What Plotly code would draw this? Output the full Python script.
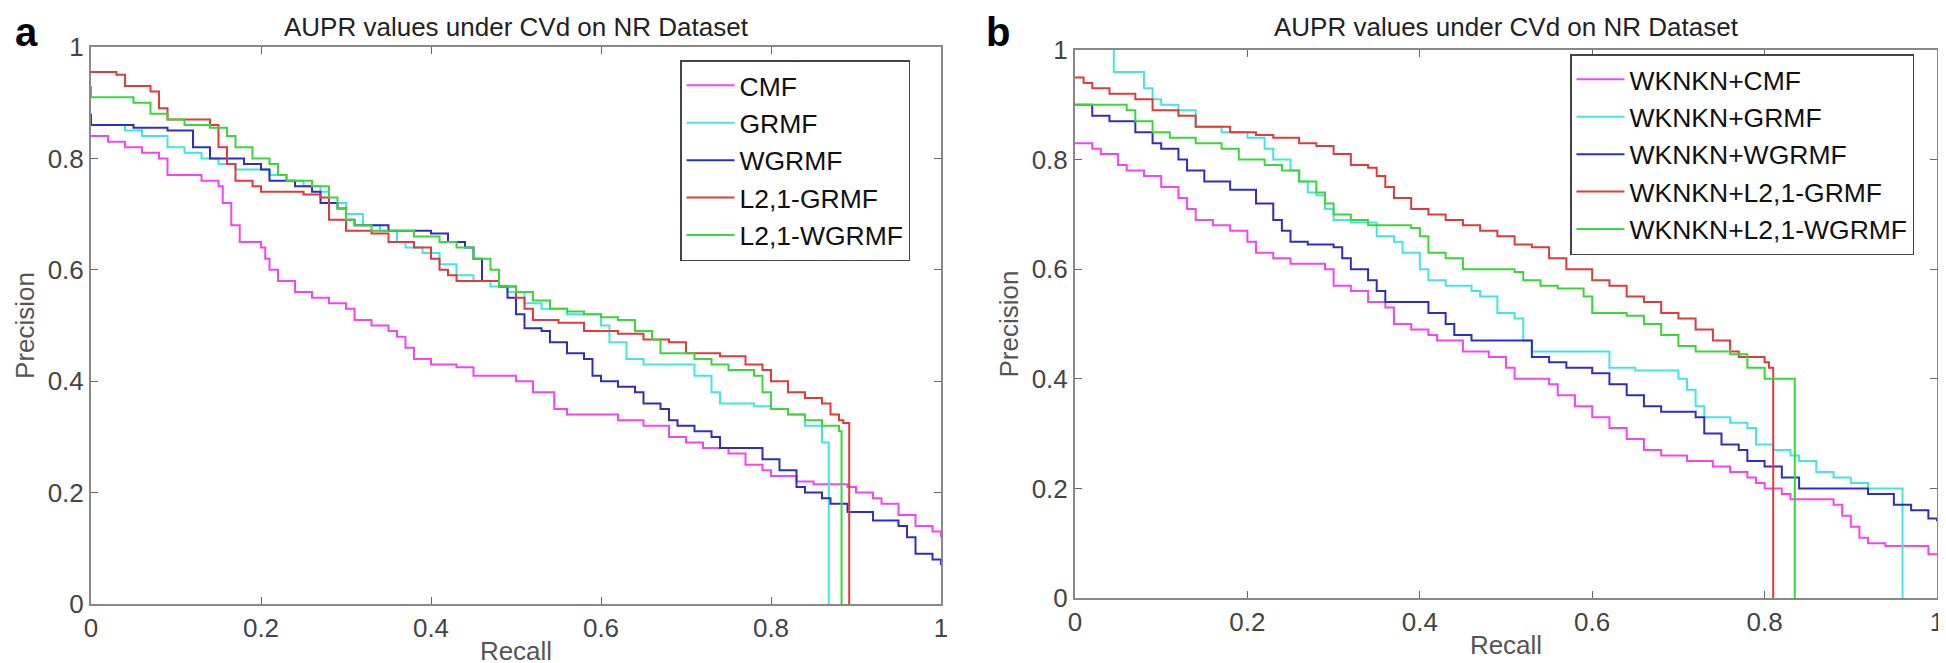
import plotly.graph_objects as go

W, H = 1946, 663

# ---- panel a : (recall, precision) step points ----
CMF = [(0, 0.84), (0.02, 0.83), (0.04, 0.82), (0.06, 0.81), (0.08, 0.80), (0.09, 0.77),
       (0.13, 0.76), (0.15, 0.75), (0.155, 0.72), (0.165, 0.68), (0.175, 0.65), (0.2, 0.64),
       (0.205, 0.62), (0.21, 0.60), (0.22, 0.58), (0.24, 0.56), (0.26, 0.55), (0.28, 0.54),
       (0.3, 0.53), (0.31, 0.51), (0.33, 0.50), (0.35, 0.49), (0.36, 0.48), (0.37, 0.46),
       (0.38, 0.44), (0.4, 0.43), (0.43, 0.425), (0.45, 0.41), (0.5, 0.40), (0.52, 0.38),
       (0.545, 0.35), (0.56, 0.34), (0.62, 0.33), (0.65, 0.32), (0.68, 0.30), (0.7, 0.29),
       (0.72, 0.28), (0.75, 0.27), (0.77, 0.25), (0.79, 0.24), (0.8, 0.23), (0.83, 0.22),
       (0.85, 0.215), (0.89, 0.21), (0.9, 0.20), (0.92, 0.19), (0.93, 0.18), (0.95, 0.16),
       (0.97, 0.14), (0.99, 0.13), (1.0, 0.12)]
GRMF = [(0, 0.86), (0.04, 0.85), (0.06, 0.84), (0.09, 0.82), (0.11, 0.81), (0.13, 0.80),
        (0.15, 0.79), (0.17, 0.78), (0.21, 0.77), (0.23, 0.76), (0.25, 0.75), (0.27, 0.74),
        (0.28, 0.72), (0.3, 0.70), (0.32, 0.68), (0.34, 0.67), (0.36, 0.65), (0.37, 0.64),
        (0.39, 0.63), (0.41, 0.61), (0.43, 0.59), (0.45, 0.58), (0.47, 0.57), (0.49, 0.56),
        (0.51, 0.54), (0.53, 0.53), (0.56, 0.52), (0.6, 0.50), (0.61, 0.47), (0.63, 0.44),
        (0.65, 0.43), (0.69, 0.43), (0.71, 0.41), (0.73, 0.38), (0.74, 0.36), (0.78, 0.355),
        (0.8, 0.35), (0.82, 0.34), (0.84, 0.32), (0.86, 0.29), (0.868, 0.0)]
WGRMF = [(0, 0.88), (0, 0.86), (0.05, 0.855), (0.09, 0.85), (0.12, 0.82), (0.14, 0.80),
         (0.18, 0.79), (0.2, 0.78), (0.21, 0.76), (0.24, 0.75), (0.26, 0.74), (0.27, 0.72),
         (0.29, 0.71), (0.3, 0.69), (0.31, 0.68), (0.35, 0.67), (0.4, 0.665), (0.42, 0.65),
         (0.44, 0.64), (0.45, 0.62), (0.46, 0.58), (0.48, 0.57), (0.49, 0.55), (0.5, 0.52),
         (0.51, 0.495), (0.53, 0.49), (0.54, 0.47), (0.56, 0.45), (0.58, 0.44), (0.59, 0.41),
         (0.6, 0.40), (0.62, 0.39), (0.64, 0.38), (0.65, 0.36), (0.67, 0.35), (0.68, 0.33),
         (0.69, 0.32), (0.71, 0.31), (0.73, 0.30), (0.74, 0.28), (0.77, 0.28), (0.79, 0.26),
         (0.81, 0.24), (0.83, 0.21), (0.84, 0.20), (0.86, 0.19), (0.87, 0.18), (0.89, 0.165),
         (0.92, 0.15), (0.95, 0.14), (0.96, 0.12), (0.97, 0.09), (0.99, 0.08), (1.0, 0.07)]
L21_GRMF = [(0, 0.955), (0.03, 0.95), (0.04, 0.93), (0.07, 0.92), (0.08, 0.89), (0.09, 0.87),
            (0.12, 0.87), (0.14, 0.86), (0.15, 0.82), (0.16, 0.79), (0.17, 0.76), (0.19, 0.75),
            (0.2, 0.74), (0.25, 0.735), (0.27, 0.73), (0.28, 0.69), (0.3, 0.67), (0.33, 0.665),
            (0.35, 0.65), (0.38, 0.64), (0.4, 0.62), (0.41, 0.60), (0.42, 0.59), (0.43, 0.58),
            (0.46, 0.58), (0.48, 0.57), (0.5, 0.55), (0.51, 0.53), (0.52, 0.51), (0.55, 0.505),
            (0.58, 0.49), (0.62, 0.485), (0.65, 0.475), (0.68, 0.47), (0.7, 0.45), (0.74, 0.445),
            (0.77, 0.43), (0.79, 0.42), (0.8, 0.40), (0.82, 0.38), (0.84, 0.37), (0.86, 0.36),
            (0.87, 0.34), (0.88, 0.33), (0.885, 0.325), (0.892, 0.0)]
L21_WGRMF = [(0, 0.93), (0, 0.91), (0.05, 0.90), (0.07, 0.88), (0.09, 0.87), (0.11, 0.86),
             (0.14, 0.855), (0.16, 0.84), (0.17, 0.82), (0.19, 0.80), (0.21, 0.79), (0.22, 0.77),
             (0.23, 0.76), (0.26, 0.75), (0.28, 0.73), (0.29, 0.71), (0.3, 0.69), (0.31, 0.68),
             (0.33, 0.67), (0.36, 0.67), (0.38, 0.66), (0.41, 0.65), (0.43, 0.64), (0.45, 0.62),
             (0.47, 0.60), (0.48, 0.57), (0.5, 0.56), (0.52, 0.545), (0.54, 0.53), (0.56, 0.525),
             (0.58, 0.52), (0.6, 0.515), (0.62, 0.51), (0.64, 0.49), (0.66, 0.475), (0.67, 0.45),
             (0.71, 0.44), (0.73, 0.43), (0.75, 0.42), (0.78, 0.41), (0.79, 0.38), (0.8, 0.35),
             (0.82, 0.34), (0.84, 0.33), (0.86, 0.32), (0.88, 0.31), (0.883, 0.0)]

# ---- panel b ----
WK_CMF = [(0, 0.83), (0.02, 0.82), (0.03, 0.81), (0.05, 0.79), (0.06, 0.78), (0.08, 0.77),
          (0.1, 0.75), (0.12, 0.73), (0.13, 0.71), (0.14, 0.69), (0.16, 0.68), (0.18, 0.67),
          (0.2, 0.65), (0.21, 0.63), (0.23, 0.62), (0.25, 0.61), (0.29, 0.60), (0.3, 0.57),
          (0.32, 0.56), (0.34, 0.54), (0.36, 0.53), (0.37, 0.50), (0.39, 0.49), (0.41, 0.48),
          (0.42, 0.47), (0.45, 0.45), (0.48, 0.44), (0.5, 0.42), (0.51, 0.40), (0.55, 0.39),
          (0.56, 0.37), (0.58, 0.35), (0.6, 0.33), (0.62, 0.31), (0.64, 0.29), (0.66, 0.27),
          (0.68, 0.26), (0.71, 0.25), (0.74, 0.24), (0.76, 0.23), (0.78, 0.22), (0.79, 0.21),
          (0.8, 0.20), (0.82, 0.19), (0.83, 0.18), (0.87, 0.18), (0.88, 0.17), (0.89, 0.15),
          (0.9, 0.13), (0.91, 0.11), (0.92, 0.10), (0.94, 0.095), (0.98, 0.095), (0.99, 0.08),
          (1.0, 0.08)]
WK_GRMF = [(0.045, 1.0), (0.045, 0.96), (0.08, 0.93), (0.09, 0.91), (0.1, 0.90), (0.12, 0.89),
           (0.14, 0.86), (0.17, 0.85), (0.2, 0.84), (0.22, 0.82), (0.23, 0.80), (0.25, 0.78),
           (0.26, 0.76), (0.27, 0.74), (0.28, 0.735), (0.29, 0.71), (0.3, 0.69), (0.32, 0.685),
           (0.35, 0.66), (0.37, 0.65), (0.38, 0.63), (0.4, 0.60), (0.41, 0.58), (0.43, 0.57),
           (0.46, 0.56), (0.47, 0.55), (0.49, 0.52), (0.51, 0.51), (0.52, 0.47), (0.53, 0.45),
           (0.6, 0.45), (0.62, 0.42), (0.65, 0.415), (0.7, 0.40), (0.71, 0.38), (0.72, 0.35),
           (0.73, 0.33), (0.76, 0.32), (0.78, 0.31), (0.79, 0.28), (0.81, 0.27), (0.83, 0.26),
           (0.84, 0.25), (0.86, 0.23), (0.88, 0.22), (0.9, 0.21), (0.92, 0.20), (0.958, 0.20),
           (0.96, 0.0)]
WK_WGRMF = [(0, 0.90), (0.02, 0.88), (0.04, 0.87), (0.07, 0.85), (0.09, 0.83), (0.1, 0.82),
            (0.12, 0.80), (0.13, 0.78), (0.15, 0.76), (0.18, 0.745), (0.2, 0.745), (0.21, 0.72),
            (0.23, 0.69), (0.24, 0.67), (0.25, 0.65), (0.27, 0.645), (0.3, 0.64), (0.31, 0.62),
            (0.32, 0.60), (0.34, 0.58), (0.35, 0.56), (0.36, 0.54), (0.4, 0.54), (0.41, 0.52),
            (0.43, 0.50), (0.44, 0.48), (0.46, 0.47), (0.52, 0.47), (0.53, 0.44), (0.55, 0.43),
            (0.57, 0.42), (0.6, 0.41), (0.62, 0.39), (0.64, 0.37), (0.66, 0.35), (0.68, 0.34),
            (0.72, 0.33), (0.73, 0.30), (0.75, 0.28), (0.77, 0.27), (0.78, 0.25), (0.8, 0.24),
            (0.82, 0.22), (0.84, 0.20), (0.9, 0.20), (0.92, 0.19), (0.95, 0.17), (0.97, 0.16),
            (0.99, 0.145), (1.0, 0.14)]
WK_L21_GRMF = [(0, 0.95), (0.01, 0.94), (0.02, 0.93), (0.04, 0.92), (0.07, 0.91), (0.09, 0.89),
               (0.12, 0.88), (0.14, 0.86), (0.16, 0.86), (0.18, 0.85), (0.21, 0.845), (0.23, 0.84),
               (0.26, 0.83), (0.28, 0.825), (0.3, 0.81), (0.32, 0.79), (0.34, 0.785), (0.35, 0.77),
               (0.36, 0.75), (0.37, 0.73), (0.39, 0.71), (0.41, 0.70), (0.43, 0.69), (0.45, 0.68),
               (0.47, 0.67), (0.49, 0.66), (0.51, 0.645), (0.53, 0.64), (0.55, 0.62), (0.57, 0.60),
               (0.6, 0.58), (0.62, 0.57), (0.64, 0.55), (0.66, 0.54), (0.68, 0.52), (0.7, 0.51),
               (0.72, 0.49), (0.74, 0.47), (0.76, 0.45), (0.77, 0.44), (0.8, 0.43), (0.805, 0.42),
               (0.81, 0.0)]
WK_L21_WGRMF = [(0, 0.90), (0.05, 0.90), (0.06, 0.89), (0.07, 0.87), (0.09, 0.85), (0.11, 0.84),
                (0.14, 0.83), (0.17, 0.82), (0.19, 0.80), (0.22, 0.79), (0.24, 0.78), (0.26, 0.76),
                (0.28, 0.74), (0.29, 0.72), (0.3, 0.70), (0.32, 0.69), (0.34, 0.68), (0.39, 0.675),
                (0.4, 0.66), (0.41, 0.63), (0.43, 0.62), (0.45, 0.60), (0.51, 0.595), (0.52, 0.58),
                (0.54, 0.57), (0.56, 0.565), (0.59, 0.55), (0.6, 0.52), (0.64, 0.515), (0.66, 0.50),
                (0.68, 0.48), (0.7, 0.46), (0.72, 0.45), (0.76, 0.445), (0.78, 0.42), (0.8, 0.40),
                (0.83, 0.40), (0.835, 0.0)]

NAMES_A = ["CMF", "GRMF", "WGRMF", "L2,1-GRMF", "L2,1-WGRMF"]
NAMES_B = ["WKNKN+CMF", "WKNKN+GRMF", "WKNKN+WGRMF", "WKNKN+L2,1-GRMF", "WKNKN+L2,1-WGRMF"]
SERIES_A = [CMF, GRMF, WGRMF, L21_GRMF, L21_WGRMF]
SERIES_B = [WK_CMF, WK_GRMF, WK_WGRMF, WK_L21_GRMF, WK_L21_WGRMF]
COLORS = ["#f445f4", "#44e4e4", "#2e2ec2", "#e03a3a", "#3ad63a"]
TICKS = [0, 0.2, 0.4, 0.6, 0.8, 1]
TICK_TEXT = ["0", "0.2", "0.4", "0.6", "0.8", "1"]
TITLE = "AUPR values under CVd on NR Dataset"

FONT = "Liberation Sans, Arial, sans-serif"

fig = go.Figure()

for names, series, xa, ya, lg in [(NAMES_A, SERIES_A, "x", "y", "legend"),
                                  (NAMES_B, SERIES_B, "x2", "y2", "legend2")]:
    for name, pts, col in zip(names, series, COLORS):
        fig.add_trace(go.Scatter(
            x=[p[0] for p in pts], y=[p[1] for p in pts],
            mode="lines", line=dict(color=col, width=2, shape="hv"),
            name=name, xaxis=xa, yaxis=ya, legend=lg))

# pixel boxes of the two axes (left, right, top, bottom)
box_a = (83, 933, 39, 596)
box_b = (1067, 1929, 42, 590)


def dom(box):
    l, r, t, b = box
    return [l / W, r / W], [(H - b) / H, (H - t) / H]


xd_a, yd_a = dom(box_a)
xd_b, yd_b = dom(box_b)

axis_common = dict(
    range=[0, 1], tickvals=TICKS, ticktext=TICK_TEXT, ticks="inside", ticklen=7,
    tickcolor="#666", showline=True, linecolor="#888", linewidth=2, mirror="ticks",
    showgrid=False, zeroline=False, automargin=False, ticklabeloverflow="allow",
    tickfont=dict(family=FONT, size=26, color="#444"),
    title_font=dict(family=FONT, size=26, color="#555"),
)

legend_common = dict(xanchor="left", yanchor="top", bgcolor="white", bordercolor="#444",
                     borderwidth=1.5, itemwidth=48,
                     font=dict(family=FONT, size=26.5, color="#111"))

fig.update_layout(
    width=W, height=H, margin=dict(l=0, r=0, t=0, b=0),
    paper_bgcolor="white", plot_bgcolor="white",
    font=dict(family=FONT),
    xaxis=dict(domain=xd_a, anchor="y", title=dict(text="Recall", standoff=0), **axis_common),
    yaxis=dict(domain=yd_a, anchor="x", title=dict(text="Precision", standoff=6), **axis_common),
    xaxis2=dict(domain=xd_b, anchor="y2", title=dict(text="Recall", standoff=0), **axis_common),
    yaxis2=dict(domain=yd_b, anchor="x2", title=dict(text="Precision", standoff=6), **axis_common),
    legend=dict(x=672 / W, y=1 - 52 / H, **legend_common),
    legend2=dict(x=1562 / W, y=1 - 46 / H, **legend_common),
    showlegend=True,
)

for box in (box_a, box_b):
    fig.add_annotation(text=TITLE, xref="paper", yref="paper",
                       x=(box[0] + box[1]) / 2 / W, y=1 - 19 / H, showarrow=False,
                       xanchor="center", yanchor="middle",
                       font=dict(family=FONT, size=26, color="#222"))

for letter, lx in [("a", 18), ("b", 990)]:
    fig.add_annotation(text="<b>%s</b>" % letter, xref="paper", yref="paper",
                       x=lx / W, y=1, showarrow=False, xanchor="center",
                       yanchor="top", font=dict(family=FONT, size=40, color="black"))

fig.write_html("out.html")
